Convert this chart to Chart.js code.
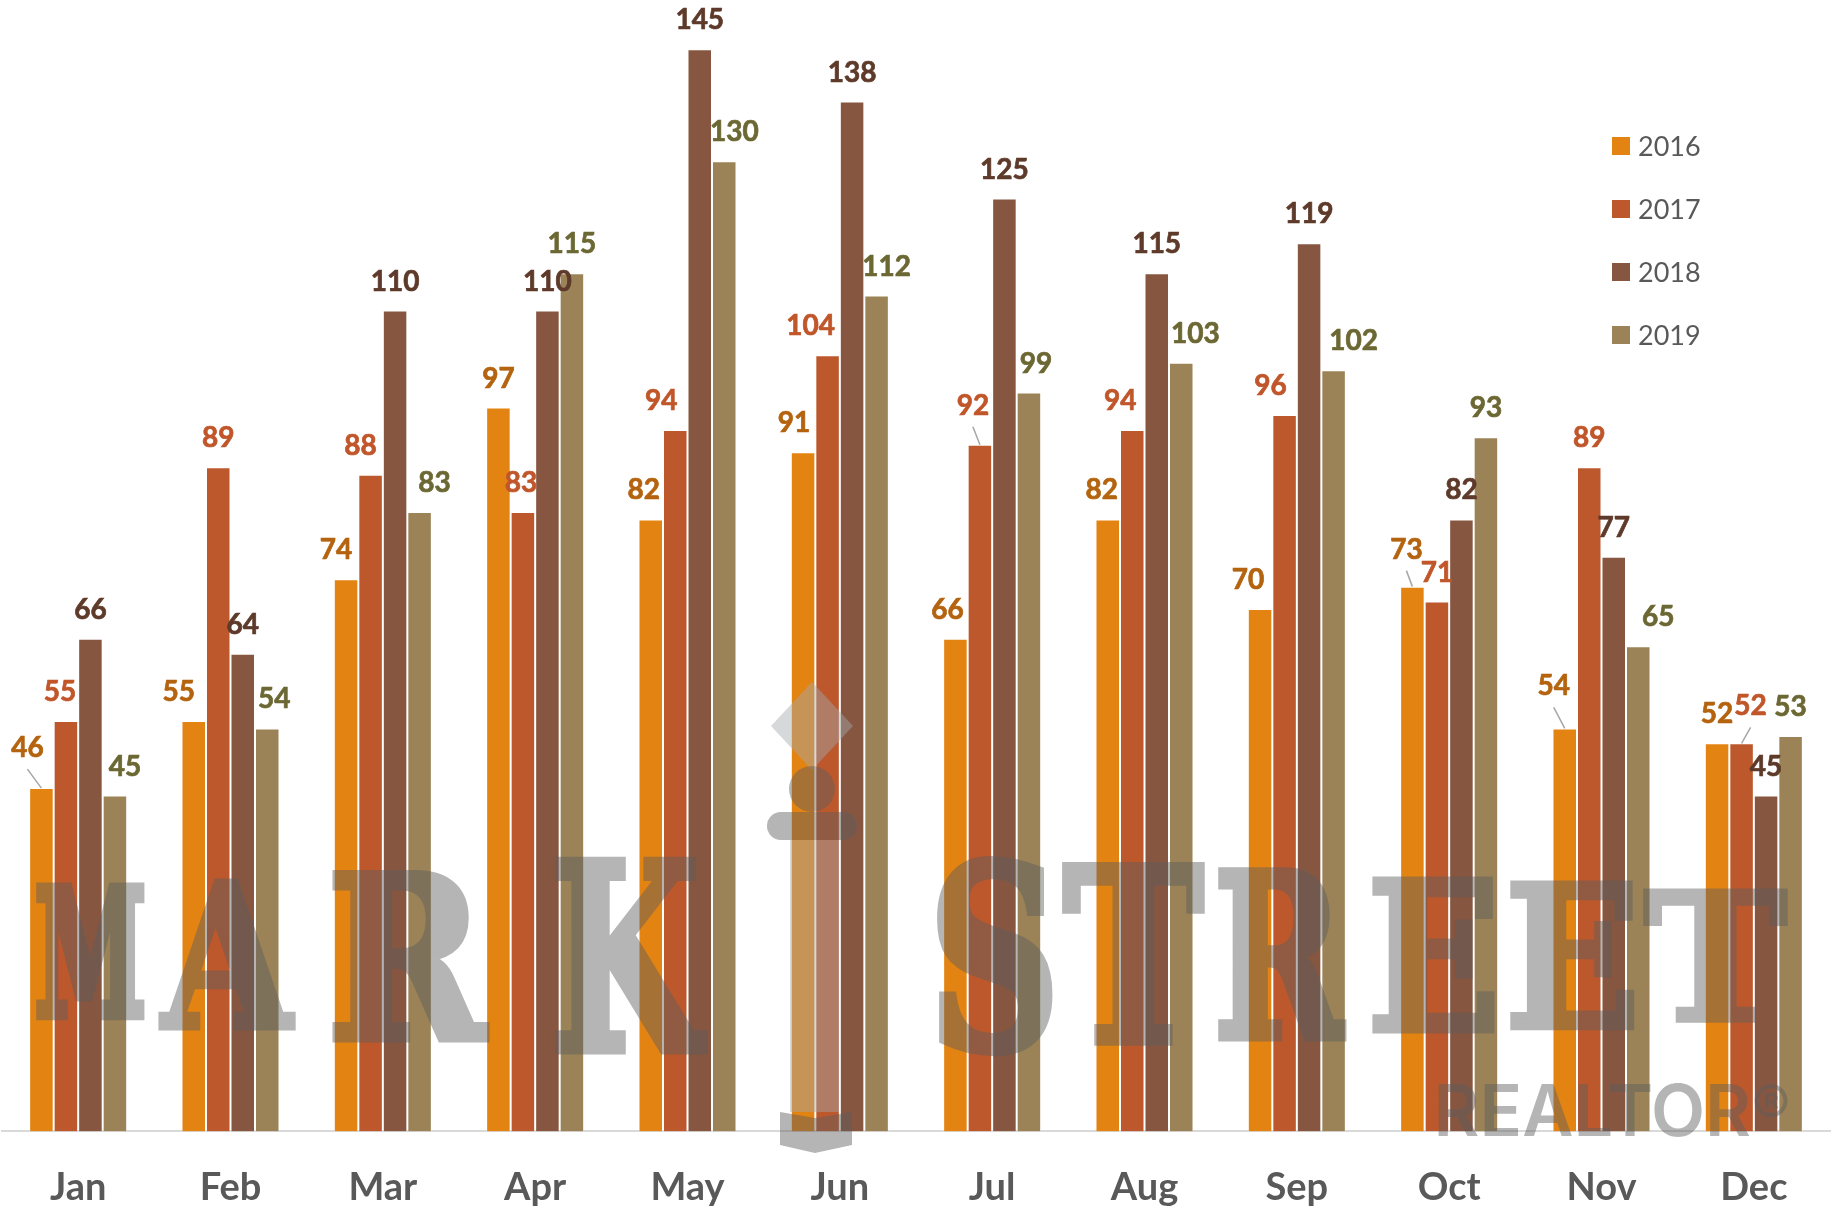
<!DOCTYPE html>
<html>
<head>
<meta charset="utf-8">
<title>Sales by month 2016-2019</title>
<script src="https://cdn.jsdelivr.net/npm/chart.js@4.4.1/dist/chart.umd.min.js"></script>
<style>
    html, body { margin: 0; padding: 0; background: #ffffff; }
    #wrap { width: 1831px; height: 1208px; }
</style>
</head>
<body>
<div id="wrap"><canvas id="chart" width="1831" height="1208"></canvas></div>
<script>
//values
var months = ["Jan", "Feb", "Mar", "Apr", "May", "Jun", "Jul", "Aug", "Sep", "Oct", "Nov", "Dec"];
var years = ["2016", "2017", "2018", "2019"];
var sales2016 = [46, 55, 74, 97, 82, 91, 66, 82, 70, 73, 54, 52];
var sales2017 = [55, 89, 88, 83, 94, 104, 92, 94, 96, 71, 89, 52];
var sales2018 = [66, 64, 110, 110, 145, 138, 125, 115, 119, 82, 77, 45];
var sales2019 = [45, 54, 83, 115, 130, 112, 99, 103, 102, 93, 65, 53];
var yMax = 150;

//colours
var barColors = ["#E38312", "#BC582C", "#865640", "#9B8357"];
var labelColors = ["#B4630F", "#C0562A", "#5E3A2A", "#6C6834"];
var textGrey = "#595959";

//labels that were moved by hand in the original (px)
var labelShiftX = [
    [-14, -15, -10, 0, -7, -9, -8, -6, -12, -6, -11, 0],
    [-6, 0, -10, -2, -14, -17, -7, -12, -14, 0, 0, 9],
    [0, 0, 0, 0, 0, 0, 0, 0, 0, 0, 0, 0],
    [10, 7, 15, 0, 10, 10, 7, 14, 20, 0, 20, 0]
];
//extra lift, these get a leader line
var labelLift = [
    [11, 0, 0, 0, 0, 0, 0, 0, 0, 8, 13, 0],
    [0, 0, 0, 0, 0, 0, 10, 0, 0, 0, 0, 8],
    [0, 0, 0, 0, 0, 0, 0, 0, 0, 0, 0, 0],
    [0, 0, 0, 0, 0, 0, 0, 0, 0, 0, 0, 0]
];

//watermark letters: char, left, top, right, bottom
var markLetters = [
    ["M", 36, 885, 145, 1018],
    ["A", 158, 878, 296, 1030],
    ["R", 332, 870, 490, 1042],
    ["K", 555, 858, 708, 1053],
    ["S", 937, 857, 1053, 1055],
    ["T", 1062, 862, 1205, 1045],
    ["R", 1218, 868, 1347, 1040],
    ["E", 1372, 875, 1495, 1033],
    ["E", 1510, 880, 1635, 1030],
    ["T", 1643, 888, 1788, 1023]
];

//draw one piece of text squeezed into a box
function fitText(ctx, text, font, x0, y0, x1, y1, stroke) {
    ctx.font = font;
    var m = ctx.measureText(text);
    var bw = m.actualBoundingBoxLeft + m.actualBoundingBoxRight;
    var bh = m.actualBoundingBoxAscent + m.actualBoundingBoxDescent;
    var s = stroke || 0;
    var sx = (x1 - x0 - s) / bw;
    var sy = (y1 - y0 - s) / bh;
    ctx.save();
    ctx.translate(x0 + s / 2, y0 + s / 2);
    ctx.scale(sx, sy);
    ctx.textAlign = "left";
    ctx.textBaseline = "alphabetic";
    ctx.fillText(text, m.actualBoundingBoxLeft, m.actualBoundingBoxAscent);
    if (s > 0) {
        //a stroke fattens the squeezed glyph back up
        ctx.lineWidth = s / sx;
        ctx.lineJoin = "miter";
        ctx.strokeText(text, m.actualBoundingBoxLeft, m.actualBoundingBoxAscent);
    }
    ctx.restore();
}

var watermarkPlugin = {
    id: "watermark",
    afterDatasetsDraw: function (chart) {
        var ctx = chart.ctx;

        //light parts of the logo: diamond and stem
        ctx.save();
        ctx.fillStyle = "rgba(165,168,172,0.45)";
        ctx.beginPath();
        ctx.moveTo(812, 682);
        ctx.lineTo(853, 726);
        ctx.lineTo(812, 770);
        ctx.lineTo(771, 726);
        ctx.closePath();
        ctx.fill();
        ctx.fillRect(790, 840, 49, 272);
        ctx.restore();

        //dark parts go on their own layer first so overlaps stay flat
        var off = document.createElement("canvas");
        off.width = chart.width;
        off.height = chart.height;
        var o = off.getContext("2d");
        o.fillStyle = "#5E5E5E";
        o.strokeStyle = "#5E5E5E";
        o.beginPath();
        o.arc(812, 789, 23, 0, Math.PI * 2);
        o.fill();
        o.beginPath();
        o.roundRect(767, 812, 90, 28, 14);
        o.fill();
        o.beginPath();
        o.moveTo(780, 1112);
        o.lineTo(815, 1118);
        o.lineTo(852, 1112);
        o.lineTo(852, 1145);
        o.lineTo(815, 1153);
        o.lineTo(780, 1145);
        o.closePath();
        o.fill();

        //MARK STREET
        for (var i = 0; i < markLetters.length; i++) {
            var l = markLetters[i];
            fitText(o, l[0], "bold 200px 'DejaVu Serif'", l[1], l[2], l[3], l[4], 6);
        }

        //REALTOR®
        fitText(o, "REALTOR", "600 80px Inter", 1438, 1083, 1750, 1137, 0);
        fitText(o, "®", "500 80px Inter", 1754, 1083, 1788, 1117, 0);

        ctx.save();
        ctx.globalAlpha = 0.46;
        ctx.drawImage(off, 0, 0);
        ctx.restore();
    }
};

var labelPlugin = {
    id: "valueLabels",
    afterDraw: function (chart) {
        var ctx = chart.ctx;
        ctx.save();
        chart.data.datasets.forEach(function (ds, i) {
            var meta = chart.getDatasetMeta(i);
            meta.data.forEach(function (bar, j) {
                var x = bar.x + labelShiftX[i][j];
                var y = bar.y - 20 - labelLift[i][j];
                if (labelLift[i][j] > 0) {
                    //leader line back to the bar
                    ctx.strokeStyle = "#A6A6A6";
                    ctx.lineWidth = 1.5;
                    ctx.beginPath();
                    ctx.moveTo(x, y + 12);
                    ctx.lineTo(bar.x, bar.y);
                    ctx.stroke();
                }
                ctx.font = "bold 28px Lato";
                ctx.textAlign = "center";
                ctx.textBaseline = "alphabetic";
                ctx.fillStyle = labelColors[i];
                ctx.strokeStyle = labelColors[i];
                ctx.lineWidth = 0.7;
                ctx.fillText(String(ds.data[j]), x, y);
                ctx.strokeText(String(ds.data[j]), x, y);
            });
        });

        //legend sits inside the plot, top right
        ctx.font = "27px Lato";
        ctx.textAlign = "left";
        ctx.textBaseline = "middle";
        for (var k = 0; k < years.length; k++) {
            var cy = 146 + k * 63;
            ctx.fillStyle = barColors[k];
            ctx.fillRect(1612, cy - 9, 18, 18);
            ctx.fillStyle = textGrey;
            ctx.fillText(years[k], 1638, cy + 1);
        }
        ctx.restore();
    }
};

var allSales = [sales2016, sales2017, sales2018, sales2019];
var datasets = [];
for (var i = 0; i < years.length; i++) {
    datasets.push({
        label: years[i],
        data: allSales[i],
        backgroundColor: barColors[i],
        borderColor: "rgba(255,255,255,0.45)",
        borderWidth: 1,
        categoryPercentage: 0.6435,
        barPercentage: 1
    });
}

new Chart(document.getElementById("chart"), {
    type: "bar",
    data: { labels: months, datasets: datasets },
    options: {
        responsive: false,
        animation: false,
        //negative bottom pad pushes the month names down to where they sit in the original
        layout: { padding: { top: 12, left: 2, right: 1, bottom: -37 } },
        plugins: {
            legend: { display: false },
            tooltip: { enabled: false }
        },
        scales: {
            x: {
                grid: { display: false, drawTicks: false },
                border: { display: true, color: "#D9D9D9", width: 2 },
                ticks: {
                    color: textGrey,
                    padding: 34,
                    font: { family: "Lato", size: 38, weight: "bold" }
                }
            },
            y: {
                display: false,
                min: 0,
                max: yMax
            }
        }
    },
    plugins: [watermarkPlugin, labelPlugin]
});
</script>
</body>
</html>
